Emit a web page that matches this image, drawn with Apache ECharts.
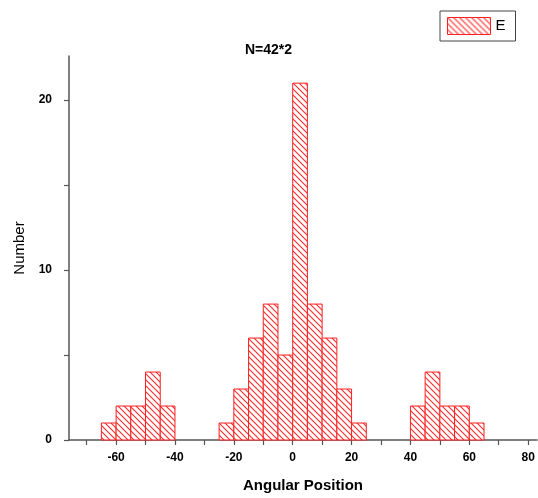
<!DOCTYPE html>
<html>
<head>
<meta charset="utf-8">
<script src="https://cdn.jsdelivr.net/npm/echarts@6/dist/echarts.min.js"></script>
<style>
html,body{margin:0;padding:0;background:#fff;}
#chart{width:538px;height:498px;}
</style>
</head>
<body>
<div id="chart"></div>
<script>
// Histogram data (Angular Position bins, counts)
var binLefts  = [-65, -60, -55, -50, -45, -25, -20, -15, -10, -5, 0, 5, 10, 15, 20, 40, 45, 50, 55, 60];
var binRights = [-60, -55, -50, -45, -40, -20, -15, -10, -5, 0, 5, 10, 15, 20, 25, 45, 50, 55, 60, 65];
var counts    = [1, 2, 2, 4, 2, 1, 3, 6, 8, 5, 21, 8, 6, 3, 1, 2, 4, 2, 2, 1];
var xTickValues  = [-70, -60, -50, -40, -30, -20, -10, 0, 10, 20, 30, 40, 50, 60, 70, 80];
var xLabelValues = [-60, -40, -20, 0, 20, 40, 60, 80];
var yTickValues  = [0, 5, 10, 15, 20];
var yLabelValues = [0, 10, 20];
var seriesName = 'E';
var titleText = 'N=42*2';

function makeHatch() {
  var s = 6;
  var c = document.createElement('canvas');
  c.width = s; c.height = s;
  var g = c.getContext('2d');
  g.fillStyle = '#ffffff';
  g.fillRect(0, 0, s, s);
  g.strokeStyle = '#ff2a2a';
  g.lineWidth = 1.1;
  g.beginPath();
  g.moveTo(-1, -1); g.lineTo(s + 1, s + 1);
  g.moveTo(-1, s - 1); g.lineTo(1, s + 1);
  g.moveTo(s - 1, -1); g.lineTo(s + 1, 1);
  g.stroke();
  return c;
}
var hatch = { image: makeHatch(), repeat: 'repeat' };

var data = binLefts.map(function (l, i) { return [l, binRights[i], counts[i]]; });

var chart = echarts.init(document.getElementById('chart'));
var font = 'Liberation Sans, Arial, sans-serif';
chart.setOption({
  animation: false,
  backgroundColor: '#fff',
  title: {
    text: titleText,
    left: 240, top: 38,
    textStyle: { fontFamily: font, fontSize: 14, fontWeight: 'bold', color: '#000' }
  },
  legend: {
    left: 440, top: 11,
    padding: [6, 10, 6, 7],
    borderColor: '#444', borderWidth: 1,
    itemWidth: 43, itemHeight: 17, itemGap: 5,
    textStyle: { fontFamily: font, fontSize: 15, color: '#000', padding: [0, 0, 0, 0] },
    data: [{
      name: seriesName, icon: 'rect',
      itemStyle: { color: hatch, borderColor: '#ff2020', borderWidth: 1 }
    }]
  },
  grid: { left: 69, right: 1, top: 56, bottom: 55 },
  xAxis: {
    type: 'value', min: -76, max: 83,
    name: 'Angular Position', nameLocation: 'middle', nameGap: 38,
    nameTextStyle: { fontFamily: font, fontSize: 15, fontWeight: 'bold', color: '#000' },
    axisLine: { show: true, onZero: false, lineStyle: { color: '#555', width: 1.5 } },
    axisTick: { show: true, length: 5, lineStyle: { color: '#555', width: 1.2 }, customValues: xTickValues },
    axisLabel: { fontFamily: font, fontSize: 12, fontWeight: 'bold', color: '#000', margin: 12, customValues: xLabelValues },
    splitLine: { show: false }
  },
  yAxis: {
    type: 'value', min: 0, max: 22.6,
    name: 'Number', nameLocation: 'middle', nameGap: 42, nameRotate: 90,
    nameTextStyle: { fontFamily: font, fontSize: 15, color: '#000' },
    axisLine: { show: true, onZero: false, lineStyle: { color: '#555', width: 1.5 } },
    axisTick: { show: true, length: 5, lineStyle: { color: '#555', width: 1.2 }, customValues: yTickValues },
    axisLabel: { fontFamily: font, fontSize: 12, fontWeight: 'bold', color: '#000', margin: 17, customValues: yLabelValues },
    splitLine: { show: false }
  },
  series: [{
    name: seriesName,
    type: 'custom',
    itemStyle: { color: hatch, borderColor: '#ff2020' },
    encode: { x: [0, 1], y: 2 },
    data: data,
    renderItem: function (params, api) {
      var p0 = api.coord([api.value(0), 0]);
      var p1 = api.coord([api.value(1), api.value(2)]);
      return {
        type: 'rect',
        shape: { x: p0[0], y: p1[1], width: p1[0] - p0[0], height: p0[1] - p1[1] },
        style: { fill: hatch, stroke: '#ff2020', lineWidth: 1 }
      };
    }
  }]
});
</script>
</body>
</html>
